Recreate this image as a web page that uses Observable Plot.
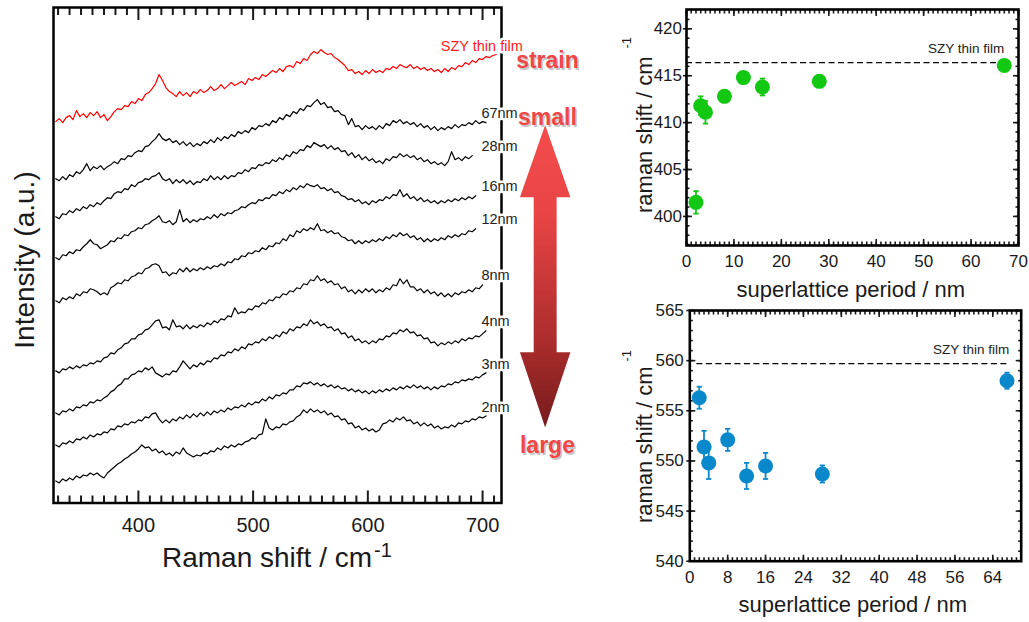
<!DOCTYPE html>
<html><head><meta charset="utf-8">
<script src="https://cdn.jsdelivr.net/npm/d3@7"></script>
<script src="https://cdn.jsdelivr.net/npm/@observablehq/plot@0.6"></script>
<style>
html,body{margin:0;padding:0;background:#fff;}
body{width:1029px;height:622px;overflow:hidden;position:relative;font-family:"Liberation Sans",Arial,Helvetica,sans-serif;}
.panel{position:absolute;}
</style></head><body>
<div id="left" class="panel" style="left:0;top:0"></div>
<div id="tr" class="panel" style="left:600px;top:0"></div>
<div id="br" class="panel" style="left:600px;top:300px"></div>
<script>
// ---------- Raman spectra: intensity (a.u., with stacking offset) sampled every 3 cm^-1 from 328 cm^-1 ----------
const shiftStart = 328, shiftStep = 3;
const szyFilm = [381,384,380,385,387,383,392,386,389,385,390,387,391,385,388,382,386,391,394,393,397,396,401,399,404,402,408,410,414,419,428,422,415,411,409,406,411,407,410,406,411,409,413,410,412,416,412,414,418,414,417,420,417,419,421,418,424,422,425,423,428,426,429,432,430,434,431,436,437,435,441,439,444,442,448,451,449,453,450,448,449,445,443,440,437,432,433,429,431,428,432,429,433,430,432,430,434,433,436,434,438,436,435,438,434,436,433,435,432,434,431,433,430,434,431,435,433,437,436,440,438,442,440,444,443,446,445,447,448];
const period67 = [324,322,326,323,328,326,331,329,333,339,332,336,334,337,333,336,338,341,339,344,343,347,346,350,352,351,356,357,361,364,369,364,362,364,360,362,358,361,357,360,356,359,357,361,359,363,360,365,362,366,364,368,366,371,369,372,370,375,373,377,376,379,377,382,380,385,383,388,386,391,389,394,392,397,396,400,403,398,400,395,396,391,392,388,387,378,384,376,377,373,377,374,376,373,377,374,379,377,382,380,383,379,381,378,380,376,379,375,377,373,376,372,375,373,376,374,378,375,378,377,380,378,382,379,381,380];
const period28 = [286,284,289,288,292,290,294,292,296,294,298,296,300,298,302,305,304,309,311,310,314,313,318,316,320,321,324,323,326,327,330,324,322,324,319,323,320,323,319,322,318,321,320,324,322,327,323,326,323,327,324,327,326,330,329,333,331,335,334,338,337,340,339,343,341,345,343,348,346,351,349,353,352,357,355,360,358,356,358,354,357,353,355,351,352,347,350,345,348,343,346,342,344,340,342,339,344,342,346,345,349,346,348,345,347,343,345,341,343,339,341,338,340,337,341,351,343,345,342,346,344,347];
const period16 = [245,243,248,247,251,249,253,252,256,259,263,259,258,254,256,258,262,261,265,264,268,267,271,272,275,274,278,279,282,284,287,281,280,282,278,281,293,281,284,280,283,281,284,283,286,284,288,285,289,287,290,289,292,293,296,295,298,300,299,303,302,305,304,308,307,311,309,313,311,315,313,317,315,319,317,316,318,314,315,312,314,310,311,307,306,303,304,301,303,299,301,298,302,300,303,302,306,304,308,307,313,306,309,304,306,302,305,301,303,300,302,299,302,300,303,301,304,302,305,303,306,304,307];
const period12 = [202,200,205,203,206,204,209,207,211,210,214,213,211,208,210,208,215,217,220,219,223,222,226,227,230,229,234,235,238,239,237,230,231,227,230,229,234,231,235,231,234,232,235,233,236,234,237,236,239,237,241,240,244,243,247,246,250,249,252,251,255,253,257,256,260,259,264,262,268,266,272,270,274,272,275,273,279,272,273,270,272,269,270,266,265,262,263,259,262,259,262,260,263,261,264,262,266,264,268,266,270,267,269,265,267,263,265,261,264,261,264,262,265,263,267,265,268,266,269,268,272,271,274];
const period8 = [132,130,134,133,136,134,137,135,138,137,140,139,142,141,145,146,150,149,153,155,159,160,164,164,168,169,173,174,178,182,183,175,176,173,183,176,177,174,178,174,177,175,178,176,180,178,182,180,184,183,187,186,195,189,191,190,194,193,197,196,200,199,203,202,206,205,209,208,212,211,215,214,219,218,223,222,227,222,224,220,222,218,219,214,216,211,213,209,213,210,214,211,214,210,213,211,215,213,218,217,224,219,223,216,216,212,214,210,213,209,211,207,210,206,209,206,210,208,211,210,213,211,215,214,218];
const period4 = [90,88,92,91,94,92,96,95,98,97,101,100,103,102,105,107,111,113,117,119,124,124,128,129,132,131,135,133,136,130,128,126,129,128,132,131,136,142,138,134,138,136,140,138,142,141,145,144,148,147,151,150,154,152,156,154,159,158,161,160,164,162,166,164,168,166,171,169,174,172,176,175,179,177,183,179,181,177,179,175,176,172,174,169,170,165,167,162,164,160,162,159,162,160,164,163,167,166,170,169,173,171,174,170,171,167,168,164,165,160,161,157,160,158,161,159,162,160,164,162,165,164,167,166,169,172];
const period3 = [58,56,60,59,62,60,64,63,66,64,68,66,69,68,71,70,74,73,77,76,79,78,81,80,83,82,86,85,89,90,84,80,83,80,84,82,86,84,88,85,89,86,90,87,91,88,92,90,93,91,95,93,96,95,98,96,100,98,101,100,104,102,106,104,108,107,110,109,113,113,117,116,120,119,121,118,120,117,119,116,118,115,117,114,115,112,114,111,113,110,112,109,112,110,113,111,114,112,115,113,116,114,117,115,118,115,117,114,116,113,116,114,117,116,119,118,121,120,123,122,124,123,126,125,128,130];
const period2 = [22,20,24,22,25,23,27,25,28,27,30,28,30,27,25,30,33,36,39,41,44,46,49,51,54,58,55,56,52,54,50,52,48,50,47,51,49,55,50,48,46,48,47,50,49,52,51,55,53,57,55,58,56,59,58,61,62,65,64,68,69,84,75,73,76,75,79,78,81,82,86,88,93,90,94,91,93,90,92,88,90,86,87,83,84,79,80,75,77,73,75,72,74,71,73,79,80,83,81,85,83,86,82,83,79,81,77,80,77,79,75,77,74,76,75,78,76,80,79,82,81,84,83,86,85,87];

const sampleNames = ["SZY thin film","67nm","28nm","16nm","12nm","8nm","4nm","3nm","2nm"];
const sampleSpectra = [szyFilm, period67, period28, period16, period12, period8, period4, period3, period2];
const xTickLabels = [400, 500, 600, 700];

// ---------- peak positions vs superlattice period ----------
const periods   = [2, 3, 4, 8, 12, 16, 28, 67];
const peak410   = [401.5, 411.8, 411.1, 412.8, 414.8, 413.8, 414.4, 416.1];
const err410    = [1.2, 1.0, 1.2, 0.5, 0.4, 0.9, 0.4, 0.3];
const peak550   = [556.3, 551.4, 549.8, 552.1, 548.5, 549.5, 548.7, 558.0];
const err550    = [1.1, 1.6, 1.6, 1.1, 1.3, 1.3, 0.85, 0.8];
const filmRef410 = 416.4;
const filmRef550 = 559.7;

const FONT = "'Liberation Sans', Arial, Helvetica, sans-serif";
const INK = "#1a1a1a";

function frameTicks({xMajor, xMinor, yMajor, yMinor, maj, min, sw, sides}) {
  const m = [];
  const blank = () => "";
  if (sides.includes("b")) {
    m.push(Plot.axisX({anchor:"bottom", ticks:xMinor, tickSize:-min, tickFormat:blank, label:null, strokeWidth:sw}));
    m.push(Plot.axisX({anchor:"bottom", ticks:xMajor, tickSize:-maj, tickFormat:blank, label:null, strokeWidth:sw}));
  }
  if (sides.includes("t")) {
    m.push(Plot.axisX({anchor:"top", ticks:xMinor, tickSize:-min, tickFormat:blank, label:null, strokeWidth:sw}));
    m.push(Plot.axisX({anchor:"top", ticks:xMajor, tickSize:-maj, tickFormat:blank, label:null, strokeWidth:sw}));
  }
  if (sides.includes("l")) {
    m.push(Plot.axisY({anchor:"left", ticks:yMinor, tickSize:-min, tickFormat:blank, label:null, strokeWidth:sw}));
    m.push(Plot.axisY({anchor:"left", ticks:yMajor, tickSize:-maj, tickFormat:blank, label:null, strokeWidth:sw}));
    m.push(Plot.axisY({anchor:"left", ticks:yMajor, tickSize:3, tickFormat:blank, label:null, strokeWidth:sw}));
  }
  if (sides.includes("r")) {
    m.push(Plot.axisY({anchor:"right", ticks:yMinor, tickSize:-min, tickFormat:blank, label:null, strokeWidth:sw}));
    m.push(Plot.axisY({anchor:"right", ticks:yMajor, tickSize:-maj, tickFormat:blank, label:null, strokeWidth:sw}));
  }
  return m;
}

// ================= LEFT PANEL =================
const spectraRows = sampleSpectra.flatMap((arr, k) => arr.map((v, i) => ({s: shiftStart + i * shiftStep, v, sample: sampleNames[k], color: k === 0 ? "#ff0000" : "#000000"})));
const ends = sampleSpectra.map((arr, k) => ({s: shiftStart + (arr.length - 1) * shiftStep, v: arr[arr.length - 1], sample: sampleNames[k]}));

const leftPlot = Plot.plot({
  width: 600, height: 622,
  marginLeft: 53, marginRight: 99, marginTop: 7, marginBottom: 119.5,
  x: {domain: [326, 716.5], label: null},
  y: {domain: [0, 495], label: null, axis: null},
  color: {type: "identity"},
  style: {fontFamily: FONT, background: "transparent", overflow: "visible", color: INK},
  marks: [
    ...frameTicks({xMajor: xTickLabels, xMinor: d3.range(330, 711, 10).filter(d => d % 100), yMajor: [], yMinor: [], maj: 12, min: 7, sw: 2, sides: "bt"}),
    Plot.axisX({anchor: "bottom", ticks: xTickLabels, tickSize: 0, tickPadding: 15, fontSize: 20, label: null}),
    Plot.line(spectraRows, {x: "s", y: "v", z: "sample", stroke: "color", strokeWidth: 1.2, curve: "linear"}),
    Plot.frame({strokeWidth: 2.5, stroke: "#000"}),
    Plot.text(ends.slice(1), {x: () => 699, y: "v", text: "sample", textAnchor: "start", dy: -9, fontSize: 14.5, fill: "#222", stroke: "white", strokeWidth: 5, paintOrder: "stroke"}),
    Plot.text(ends.slice(0, 1), {x: () => 735, y: "v", text: "sample", textAnchor: "end", dy: -8, fontSize: 14.5, fill: "#ff1a1a", stroke: "white", strokeWidth: 5, paintOrder: "stroke"})
  ]
});
document.getElementById("left").appendChild(leftPlot);

(function decorateLeft() {
  const svg = d3.select(leftPlot);
  const sx = leftPlot.scale("x"), sy = leftPlot.scale("y");
  const X = v => sx.apply(v), Y = v => sy.apply(v);
  // gradient double arrow (annotation), placed in data units
  const xc = 755, head = 22, shaft = 10, top = 377, topBase = 305, botBase = 150, bot = 75;
  const defs = svg.append("defs");
  const g = defs.append("linearGradient").attr("id", "arrowGrad").attr("gradientUnits", "userSpaceOnUse")
    .attr("x1", 0).attr("x2", 0).attr("y1", Y(top)).attr("y2", Y(bot));
  g.append("stop").attr("offset", "0%").attr("stop-color", "#f54c4c");
  g.append("stop").attr("offset", "30%").attr("stop-color", "#e84444");
  g.append("stop").attr("offset", "70%").attr("stop-color", "#ae2d2d");
  g.append("stop").attr("offset", "100%").attr("stop-color", "#761c1c");
  const pts = [[xc, top], [xc + head, topBase], [xc + shaft, topBase], [xc + shaft, botBase], [xc + head, botBase], [xc, bot],
               [xc - head, botBase], [xc - shaft, botBase], [xc - shaft, topBase], [xc - head, topBase]];
  svg.append("polygon").attr("points", pts.map(([a, b]) => `${X(a)},${Y(b)}`).join(" ")).attr("fill", "url(#arrowGrad)");
  // strain / small / large words
  [["strain", 757, 442], ["small", 757, 385], ["large", 757, 57]].forEach(([t, a, b]) => {
    svg.append("text").attr("x", X(a) + 1.5).attr("y", Y(b) + 1.5).attr("dy", "0.35em").attr("text-anchor", "middle")
      .attr("font-size", 23).attr("font-weight", "bold").attr("fill", "#9a9a9a").attr("opacity", 0.55).attr("font-family", FONT).text(t);
    svg.append("text").attr("x", X(a)).attr("y", Y(b)).attr("dy", "0.35em").attr("text-anchor", "middle")
      .attr("font-size", 23).attr("font-weight", "bold").attr("fill", "#f04646").attr("font-family", FONT).text(t);
  });
  // axis titles
  const xl = svg.append("text").attr("x", 162).attr("y", 567).attr("text-anchor", "start").attr("font-size", 28).attr("fill", INK).attr("font-family", FONT).text("Raman shift / cm");
  xl.append("tspan").attr("dx", 2).attr("dy", -10).attr("font-size", 20).text("-1");
  svg.append("text").attr("transform", "translate(34,260) rotate(-90)").attr("text-anchor", "middle")
    .attr("font-size", 28).attr("fill", INK).attr("font-family", FONT).text("Intensity (a.u.)");
})();

// ================= RIGHT PANELS =================
const capSymbol = {draw(ctx, size) { const r = Math.sqrt(size / Math.PI); ctx.moveTo(-r, 0); ctx.lineTo(r, 0); }};

function peakPanel({host, width, height, margins, yDomain, yMajor, xMajor, values, errs, color, ref, refSpan, refDy, yTitle, xTitle, xPad, yPad}) {
  const rows = periods.map((p, i) => ({p, v: values[i], e: errs[i]}));
  const plot = Plot.plot({
    width, height, ...margins,
    x: {domain: [0, 70], label: null},
    y: {domain: yDomain, label: null},
    style: {fontFamily: FONT, background: "transparent", overflow: "visible", color: INK},
    marks: [
      ...frameTicks({xMajor, xMinor: d3.range(0, 71, 1), yMajor, yMinor: d3.range(Math.ceil(yDomain[0]), yDomain[1], 1), maj: 6, min: 3.5, sw: 1.6, sides: "btlr"}),
      Plot.axisX({anchor: "bottom", ticks: xMajor, tickSize: 0, tickPadding: xPad, fontSize: 17, label: null}),
      Plot.axisY({anchor: "left", ticks: yMajor, tickSize: 0, tickPadding: yPad, fontSize: 17, label: null}),
      Plot.frame({strokeWidth: 2.6, stroke: "#000"}),
      Plot.ruleY([ref], {x1: refSpan[0], x2: refSpan[1], stroke: "#000", strokeWidth: 1.4, strokeDasharray: "6,3.5"}),
      Plot.text([{x: refSpan[1], y: ref, t: "SZY thin film"}], {x: "x", y: "y", text: "t", textAnchor: "end", dy: refDy, fontSize: 13.5, fill: "#222"}),
      Plot.ruleX(rows, {x: "p", y1: d => d.v - d.e, y2: d => d.v + d.e, stroke: color, strokeWidth: 1.8}),
      Plot.dot(rows, {x: "p", y: d => d.v + d.e, symbol: capSymbol, r: 2.6, stroke: color, strokeWidth: 1.8}),
      Plot.dot(rows, {x: "p", y: d => d.v - d.e, symbol: capSymbol, r: 2.6, stroke: color, strokeWidth: 1.8}),
      Plot.dot(rows, {x: "p", y: "v", r: 7.5, fill: color, stroke: "none"})
    ]
  });
  document.getElementById(host).appendChild(plot);
  const svg = d3.select(plot);
  svg.append("text").attr("x", xTitle[0]).attr("y", xTitle[1]).attr("text-anchor", "middle").attr("font-size", 22)
    .attr("fill", INK).attr("font-family", FONT).text("superlattice period / nm");
  const yt = svg.append("text").attr("transform", `translate(${yTitle[0]},${yTitle[1]}) rotate(-90)`).attr("text-anchor", "start").attr("font-size", 22)
    .attr("fill", INK).attr("font-family", FONT).text("raman shift / cm");
  yt.append("tspan").attr("dx", yTitle[2]).attr("dy", -21).attr("font-size", 13).text("-1");
  return plot;
}

peakPanel({
  host: "tr", width: 429, height: 305,
  margins: {marginLeft: 86, marginRight: 11, marginTop: 9, marginBottom: 60},
  yDomain: [396.9, 422.06], yMajor: [400, 405, 410, 415, 420], xMajor: d3.range(0, 71, 10),
  values: peak410, errs: err410, color: "#12c812",
  ref: filmRef410, refSpan: [0, 67], refDy: -14,
  xTitle: [250.8, 297], yTitle: [51.5, 213, 8], xPad: 9, yPad: 4.5
});
peakPanel({
  host: "br", width: 429, height: 322,
  margins: {marginLeft: 89.3, marginRight: 8.3, marginTop: 10, marginBottom: 61.3},
  yDomain: [540, 565], yMajor: [540, 545, 550, 555, 560, 565], xMajor: d3.range(0, 65, 8),
  values: peak550, errs: err550, color: "#0a88cc",
  ref: filmRef550, refSpan: [1.5, 67.5], refDy: -13.5,
  xTitle: [252.8, 311.7], yTitle: [52, 223, 5], xPad: 10, yPad: 6
});
</script>
</body></html>
